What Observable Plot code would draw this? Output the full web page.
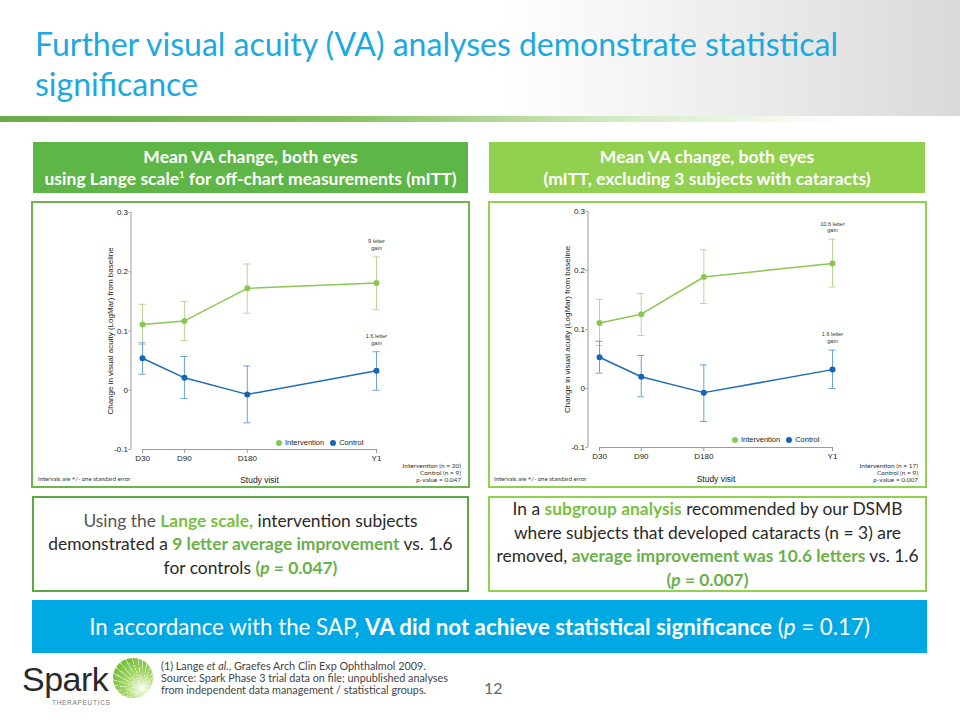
<!DOCTYPE html>
<html>
<head>
<meta charset="utf-8">
<script src="https://cdn.jsdelivr.net/npm/d3@7"></script>
<script src="https://cdn.jsdelivr.net/npm/@observablehq/plot@0.6"></script>
<style>
  html, body { margin: 0; padding: 0; background: #fff; }
  #slide { position: relative; width: 960px; height: 720px; overflow: hidden; background: #fff; font-family: Lato, "Open Sans", sans-serif; }
  .abs { position: absolute; box-sizing: border-box; }
  .hdr { color: #fff; font-weight: bold; font-size: 17.5px; line-height: 22px; text-align: center; display: flex; flex-direction: column; justify-content: center; white-space: nowrap; }
  .tbox { display: flex; flex-direction: column; align-items: center; justify-content: center; text-align: center; font-size: 17.4px; line-height: 23.5px; color: #2a2a2a; white-space: nowrap; }
  .g1 { color: #79bf45; font-weight: bold; }
  .g2 { color: #6ab04c; font-weight: bold; }
  .note { font-size: 6px; color: #333; font-family: Lato, sans-serif; white-space: nowrap; }
  .nr { font-size: 6.5px; line-height: 6.8px; color: #333; text-align: right; font-family: Lato, sans-serif; white-space: nowrap; }
  .leg { font-family: "Liberation Sans", Arial, sans-serif; font-size: 7.5px; color: #222; display: flex; align-items: center; white-space: nowrap; }
  .leg i { display: inline-block; width: 6px; height: 6px; border-radius: 50%; margin-right: 3px; }
  .fn div { height: 12px; line-height: 12px; }
</style>
</head>
<body>
<div id="slide">
  <div class="abs" style="left:0;top:0;width:960px;height:118px;background:linear-gradient(to right,#ffffff 0%,#ffffff 52%,#eeeeee 75%,#d9d9d9 100%);"></div>
  <div class="abs" style="left:0;top:116px;width:960px;height:6px;background:linear-gradient(to right,#6aab48 0%,#86c05e 35%,#d5ebc6 65%,#ffffff 88%);"></div>
  <div class="abs" style="left:35px;top:24px;width:920px;font-size:32px;line-height:40px;color:#1aa9e1;white-space:nowrap;">Further visual acuity (VA) analyses demonstrate statistical<br>significance</div>

  <div class="abs hdr" style="left:33px;top:142px;width:435px;height:51px;background:#5db646;">
    <div>Mean VA change, both eyes</div>
    <div>using Lange scale<sup style="font-size:9.5px;line-height:0;">1</sup> for off-chart measurements (mITT)</div>
  </div>
  <div class="abs hdr" style="left:489px;top:142px;width:436px;height:51px;background:#92d050;">
    <div>Mean VA change, both eyes</div>
    <div>(mITT, excluding 3 subjects with cataracts)</div>
  </div>

  <div class="abs" style="left:31px;top:201px;width:439px;height:287px;border:2px solid #6db54f;"></div>
  <div class="abs" style="left:488px;top:201px;width:439px;height:287px;border:2px solid #92d050;"></div>
  <div id="chartL" class="abs" style="left:32px;top:202px;"></div>
  <div id="chartR" class="abs" style="left:489px;top:202px;"></div>

  <div class="abs leg" style="left:276px;top:438px;"><i style="background:#8cc652"></i>Intervention<i style="background:#1565b5;margin-left:6px"></i>Control</div>
  <div class="abs leg" style="left:732px;top:435px;"><i style="background:#8cc652"></i>Intervention<i style="background:#1565b5;margin-left:6px"></i>Control</div>

  <div class="abs note" style="left:38px;top:475px;">Intervals are +/- one standard error</div>
  <div class="abs note" style="left:494px;top:475px;">Intervals are +/- one standard error</div>
  <div class="abs nr" style="left:361px;top:463px;width:100px;">Intervention (n = 20)<br>Control (n = 9)<br><i>p</i>-value = 0.047</div>
  <div class="abs nr" style="left:818px;top:463px;width:100px;">Intervention (n = 17)<br>Control (n = 9)<br><i>p</i>-value = 0.007</div>

  <div class="abs tbox" style="left:32px;top:496px;width:437px;height:96px;border:2px solid #5fa843;">
    <div><span style="color:#555">Using the </span><span class="g1">Lange scale,</span><span> intervention subjects</span></div>
    <div><span>demonstrated a </span><span class="g2">9 letter average improvement</span><span> vs. 1.6</span></div>
    <div><span>for controls </span><span class="g2">(<i>p</i> = 0.047)</span></div>
  </div>
  <div class="abs tbox" style="left:488px;top:496px;width:439px;height:96px;border:2px solid #92d050;">
    <div><span>In a </span><span class="g1">subgroup analysis</span><span> recommended by our DSMB</span></div>
    <div><span>where subjects that developed cataracts (n = 3) are</span></div>
    <div><span>removed, </span><span class="g2">average improvement was 10.6 letters</span><span> vs. 1.6</span></div>
    <div><span class="g2">(<i>p</i> = 0.007)</span></div>
  </div>

  <div class="abs" style="left:32px;top:600px;width:895px;height:53px;background:#00a9e3;color:#fff;font-size:22.3px;display:flex;align-items:center;justify-content:center;white-space:nowrap;">
    <div>In accordance with the SAP, <b>VA did not achieve statistical significance</b> (<i>p</i> = 0.17)</div>
  </div>

  <div class="abs" style="left:22px;top:660px;height:38px;font-family:'Liberation Sans',Arial,sans-serif;font-size:34px;line-height:38px;color:#2a2a2a;letter-spacing:-0.5px;">Spark</div>
  <div class="abs" style="left:52px;top:699px;font-family:'Liberation Sans',Arial,sans-serif;font-size:6.5px;line-height:7.5px;letter-spacing:0.7px;color:#777;">THERAPEUTICS</div>
  <div class="abs" style="left:113px;top:658px;width:40px;height:40px;border-radius:50%;background:repeating-conic-gradient(from 0deg at 72% 76%, rgba(255,255,255,0.55) 0deg 2deg, rgba(255,255,255,0) 2deg 11deg), radial-gradient(circle at 72% 76%, #ffffff 0%, #e3f3c9 12%, #a5d86a 40%, #78bf3c 75%, #5ea62e 100%);"></div>
  <div class="abs fn" style="left:161px;top:660px;font-size:10.8px;color:#444;white-space:nowrap;">
    <div>(1) Lange <i>et al.</i>, Graefes Arch Clin Exp Ophthalmol 2009.</div>
    <div>Source: Spark Phase 3 trial data on file; unpublished analyses</div>
    <div>from independent data management / statistical groups.</div>
  </div>
  <div class="abs" style="left:484px;top:678px;font-size:16px;color:#666;">12</div>
</div>

<script>
// ---------- data ----------
const visits = ["D30", "D90", "D180", "Y1"];
const visitDays = [30, 90, 180, 365];
const seriesNames = ["Intervention", "Control"];

const yTicks = [-0.1, 0, 0.1, 0.2, 0.3];
const yTickLabels = ["-0.1", "0", "0.1", "0.2", "0.3"];

// Left chart: mITT, Lange scale
const leftIntervention   = [0.111, 0.117, 0.172, 0.181];
const leftInterventionLo = [0.077, 0.084, 0.130, 0.136];
const leftInterventionHi = [0.145, 0.150, 0.213, 0.225];
const leftControl        = [0.054, 0.021, -0.007, 0.033];
const leftControlLo      = [0.027, -0.014, -0.055, 0.000];
const leftControlHi      = [0.080, 0.057, 0.041, 0.065];
const leftGainLabels     = ["9 letter\ngain", "1.6 letter\ngain"];

// Right chart: mITT excluding cataracts
const rightIntervention   = [0.111, 0.126, 0.189, 0.212];
const rightInterventionLo = [0.073, 0.090, 0.144, 0.172];
const rightInterventionHi = [0.151, 0.161, 0.235, 0.253];
const rightControl        = [0.053, 0.020, -0.007, 0.032];
const rightControlLo      = [0.026, -0.014, -0.056, 0.000];
const rightControlHi      = [0.080, 0.056, 0.040, 0.065];
const rightGainLabels     = ["10.6 letter\ngain", "1.6 letter\ngain"];

const colors = {
  Intervention: {line: "#8cc652", bar: "#b6da95", dot: "#8cc652"},
  Control: {line: "#1f6db4", bar: "#6aa3d6", dot: "#1565b5"}
};

function rowsFor(name, vals, lo, hi) {
  return visits.map((v, i) => ({series: name, visit: v, day: visitDays[i], y: vals[i], lo: lo[i], hi: hi[i]}));
}

function chart(cfg) {
  const inter = rowsFor(seriesNames[0], cfg.inter, cfg.interLo, cfg.interHi);
  const ctrl = rowsFor(seriesNames[1], cfg.ctrl, cfg.ctrlLo, cfg.ctrlHi);
  const last = visits.length - 1;
  const ann = [
    {day: visitDays[last], y: cfg.interHi[last], text: cfg.gain[0]},
    {day: visitDays[last], y: cfg.ctrlHi[last], text: cfg.gain[1]}
  ];
  const axisColor = "#9a9a9a";
  const ydom = [yTicks[0], yTicks[yTicks.length - 1]];
  const seriesMarks = (rows) => {
    const c = colors[rows[0].series];
    return [
      Plot.ruleX(rows, {x: "day", y1: "lo", y2: "hi", stroke: c.bar, strokeWidth: 1}),
      Plot.ruleY(rows, {y: "lo", x1: "day", x2: "day", insetLeft: -3.5, insetRight: -3.5, stroke: c.bar, strokeWidth: 1}),
      Plot.ruleY(rows, {y: "hi", x1: "day", x2: "day", insetLeft: -3.5, insetRight: -3.5, stroke: c.bar, strokeWidth: 1}),
      Plot.line(rows, {x: "day", y: "y", stroke: c.line, strokeWidth: 1.5}),
      Plot.dot(rows, {x: "day", y: "y", r: 3, fill: c.dot, stroke: "none"})
    ];
  };
  return Plot.plot({
    width: 437,
    height: 285,
    marginLeft: 110,
    marginRight: cfg.marginRight,
    marginTop: cfg.marginTop,
    marginBottom: cfg.marginBottom,
    style: {fontFamily: "'Liberation Sans', Arial, sans-serif", fontSize: "8px", color: "#222", background: "transparent", overflow: "visible"},
    x: {type: "linear", domain: [visitDays[0], visitDays[last]]},
    y: {domain: ydom},
    marks: [
      Plot.ruleX([visitDays[0]], {y1: ydom[0], y2: ydom[1], dx: -11.5, stroke: axisColor}),
      Plot.axisY({ticks: yTicks, tickFormat: d => yTickLabels[yTicks.indexOf(d)], tickSize: 2, tickPadding: 1, dx: -11.5, stroke: axisColor, label: null}),
      Plot.ruleY([ydom[0]], {x1: visitDays[0], x2: visitDays[last], stroke: axisColor}),
      Plot.axisX({ticks: visitDays, tickFormat: d => visits[visitDays.indexOf(d)], tickSize: 4, tickPadding: 2, stroke: axisColor, label: null}),
      Plot.text(["Change in visual acuity (LogMar) from baseline"], {frameAnchor: "left", textAnchor: "middle", rotate: -90, dx: -32, fontSize: 8, fill: "#222"}),
      Plot.text(["Study visit"], {frameAnchor: "bottom", dy: cfg.labelDy, fontSize: 8.5, fill: "#222"}),
      ...seriesMarks(inter),
      ...seriesMarks(ctrl),
      Plot.text(ann, {x: "day", y: "y", text: "text", dy: -12.5, fontSize: 5.5, lineHeight: 1.2, fill: "#333"})
    ]
  });
}

document.getElementById("chartL").appendChild(chart({
  inter: leftIntervention, interLo: leftInterventionLo, interHi: leftInterventionHi,
  ctrl: leftControl, ctrlLo: leftControlLo, ctrlHi: leftControlHi,
  gain: leftGainLabels, marginRight: 93, marginTop: 10, marginBottom: 38, labelDy: 33
}));
document.getElementById("chartR").appendChild(chart({
  inter: rightIntervention, interLo: rightInterventionLo, interHi: rightInterventionHi,
  ctrl: rightControl, ctrlLo: rightControlLo, ctrlHi: rightControlHi,
  gain: rightGainLabels, marginRight: 94, marginTop: 9, marginBottom: 40, labelDy: 34
}));
</script>
</body>
</html>
